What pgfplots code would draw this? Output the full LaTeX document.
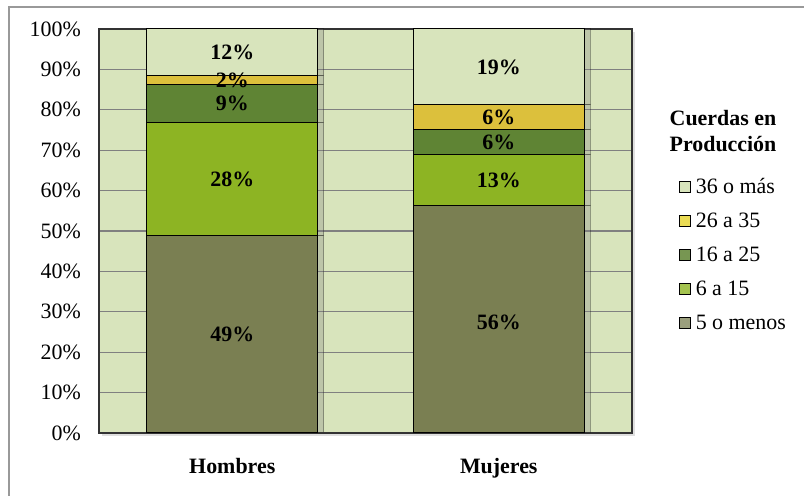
\documentclass[border=0pt]{standalone}
\usepackage{pgfplots}
\pgfplotsset{compat=1.18}
\usetikzlibrary{shadows}
\usepackage{fontspec}
\setmainfont{Liberation Serif}
\definecolor{bgc}{HTML}{D8E4BC}
\definecolor{cA}{HTML}{7A7F52}
\definecolor{cB}{HTML}{8DB423}
\definecolor{cC}{HTML}{5F8434}
\definecolor{cD}{HTML}{DCC03C}
\definecolor{cE}{HTML}{D8E4BC}
\newcommand{\bigf}{\fontsize{22}{27}\selectfont}
\tikzset{lab/.style={font=\bfseries\bigf, inner sep=0pt},
  barsh/.style={draw=black, line width=1bp,
    drop shadow={shadow xshift=6bp, shadow yshift=0bp, opacity=0.3}}}
\begin{document}
\begin{tikzpicture}[x=1bp,y=1bp]
\path[use as bounding box] (0,0) rectangle (804,496);
\draw[black!40, line width=1.2bp] (9,0) -- (9,489) -- (804,489);
\begin{axis}[
  at={(99bp,63bp)}, anchor=south west,
  scale only axis, width=533bp, height=404bp,
  ybar stacked, bar width=171bp,
  xmin=-0.5, xmax=1.5, ymin=0, ymax=100,
  xtick={0,1}, xticklabels={\textbf{Hombres},\textbf{Mujeres}},
  ytick={0,10,...,100},
  yticklabels={0\%,10\%,20\%,30\%,40\%,50\%,60\%,70\%,80\%,90\%,100\%},
  yticklabel style={font=\bigf, inner sep=0pt, xshift=-18bp},
  xticklabel style={font=\bigf, inner sep=0pt, yshift=-25bp},
  ymajorgrids, grid style={black!50, line width=1.3bp},
  axis background/.style={fill=bgc, drop shadow={shadow xshift=3bp, shadow yshift=-3bp, opacity=0.25}},
  axis line style={black!80, line width=1.5bp},
  major tick length=0,
  legend image code/.code={\draw[#1, draw=black, line width=0.8bp] (0bp,-5.5bp) rectangle (11bp,5.5bp); \path (14bp,0bp);},
  legend style={at={(1.0826,0.641)}, anchor=north west, draw=none, fill=none,
    font=\bigf, row sep=14bp},
  legend cell align=left,
  reverse legend,
]
\addplot[forget plot, fill=cA, barsh] coordinates {(0,48.8) (1,56.3)};
\addplot[forget plot, fill=cB, barsh] coordinates {(0,28.1) (1,12.7)};
\addplot[forget plot, fill=cC, barsh] coordinates {(0,9.4) (1,6.1)};
\addplot[forget plot, fill=cD, barsh] coordinates {(0,2.1) (1,6.1)};
\addplot[forget plot, fill=cE, barsh] coordinates {(0,11.6) (1,18.8)};
\addlegendimage{fill=cA!75!white}\addlegendentry{5 o menos}
\addlegendimage{fill=cB!80!white}\addlegendentry{6 a 15}
\addlegendimage{fill=cC!85!white}\addlegendentry{16 a 25}
\addlegendimage{fill=cD!70!yellow!80!white}\addlegendentry{26 a 35}
\addlegendimage{fill=cE}\addlegendentry{36 o más}
\coordinate (h1) at (axis cs:0,24.4);
\coordinate (h2) at (axis cs:0,62.85);
\coordinate (h3) at (axis cs:0,81.6);
\coordinate (h4) at (axis cs:0,87.35);
\coordinate (h5) at (axis cs:0,94.2);
\coordinate (m1) at (axis cs:1,27.5);
\coordinate (m2) at (axis cs:1,62.65);
\coordinate (m3) at (axis cs:1,72.05);
\coordinate (m4) at (axis cs:1,78.15);
\coordinate (m5) at (axis cs:1,90.6);
\end{axis}
\node[lab] at (h1) {49\%};
\node[lab] at (h2) {28\%};
\node[lab] at (h3) {9\%};
\node[lab] at (h4) {2\%};
\node[lab] at (h5) {12\%};
\node[lab] at (m1) {56\%};
\node[lab] at (m2) {13\%};
\node[lab] at (m3) {6\%};
\node[lab] at (m4) {6\%};
\node[lab] at (m5) {19\%};
\node[font=\bfseries\bigf, align=center] at (723,365) {Cuerdas en\\Producción};
\end{tikzpicture}
\end{document}
